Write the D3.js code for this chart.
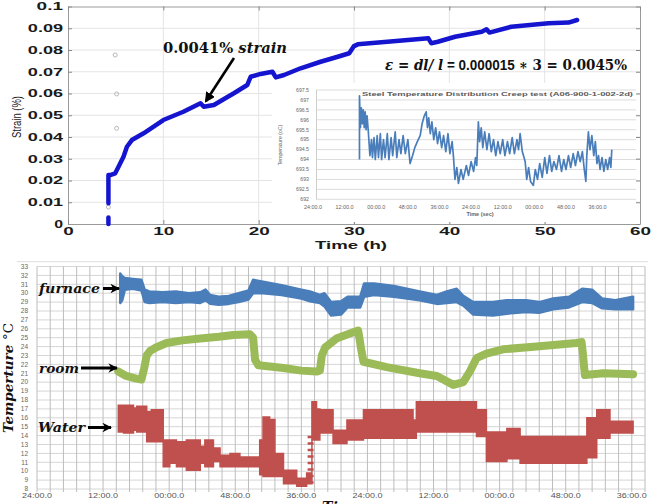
<!DOCTYPE html>
<html><head><meta charset="utf-8">
<script src="https://cdn.jsdelivr.net/npm/d3@7"></script>
<style>body{margin:0;background:#fff} svg{display:block}</style>
</head><body>
<svg id="c" width="652" height="504"></svg>
<script>
// ================= DATA =================
// --- top chart: strain vs time ---
const strainTicks = [0,0.01,0.02,0.03,0.04,0.05,0.06,0.07,0.08,0.09,0.1];
const strainTickLabels = ["0","0.01","0.02","0.03","0.04","0.05","0.06","0.07","0.08","0.09","0.1"];
const hourTicks = [0,10,20,30,40,50,60];
const strainHours  = [4.24,4.24,4.42,4.95,5.3,5.82,6.18,6.7,7.93,10.0,12.1,13.9,14.24,15.3,17.4,18.8,19.16,20.2,21.44,21.8,22.66,24.4,26.5,28.3,29.5,30.0,30.4,33.5,37.8,38.1,38.8,40.6,43.4,43.9,44.2,46.5,50.4,52.5,53.4];
const strainValues = [0.0095,0.0225,0.0225,0.0233,0.0263,0.0309,0.0355,0.0386,0.0417,0.0478,0.0516,0.0555,0.0539,0.0547,0.0601,0.0639,0.0677,0.069,0.070,0.0674,0.0685,0.0716,0.0746,0.0769,0.0785,0.0818,0.0826,0.0838,0.0854,0.0831,0.0838,0.0861,0.0884,0.0895,0.088,0.0907,0.0923,0.0926,0.0938];
const strainStubHours  = [4.24,4.24];
const strainStubValues = [0.0,0.003];
const markerHours  = [4.95,5.1,5.1,4.24];
const markerValues = [0.0777,0.0598,0.044,0.0078];

// --- inset: steel temperature ---
const insetTimeLabels = ["24:00.0","12:00.0","00:00.0","48:00.0","36:00.0","24:00.0","12:00.0","00:00.0","48:00.0","36:00.0"];
const insetTempTicks = [692,692.5,693,693.5,694,694.5,695,695.5,696,696.5,697,697.5];
const insetSeries = [
 [1.47,694.0],[1.47,697.2],[1.50,695.6],[1.53,696.6],[1.56,695.8],[1.59,696.5],[1.62,695.6],[1.65,696.4],[1.68,695.5],[1.71,696.2],
 [1.75,695.4],[1.80,694.2],[1.85,695.0],[1.88,694.1],[1.93,695.1],[1.97,694.0],[2.03,695.2],[2.07,694.1],[2.13,695.3],[2.17,694.0],
 [2.23,695.0],[2.28,694.1],[2.35,695.3],[2.40,694.0],[2.47,695.1],[2.52,694.2],[2.60,695.4],[2.65,694.1],[2.72,695.0],[2.78,694.3],
 [2.85,695.2],[2.92,694.3],[3.00,695.0],[3.07,693.8],[3.15,694.2],[3.22,694.6],[3.30,694.9],[3.39,695.2],[3.45,695.8],[3.52,696.2],
 [3.58,696.4],[3.62,695.6],[3.66,696.1],[3.71,695.3],[3.76,695.9],[3.82,695.0],[3.88,695.6],[3.94,694.8],[4.00,695.4],[4.07,694.6],
 [4.13,695.2],[4.20,694.4],[4.27,695.3],[4.33,694.3],[4.40,694.9],[4.44,694.2],[4.49,693.0],[4.55,693.6],[4.60,692.8],[4.68,693.5],
 [4.75,693.0],[4.85,693.7],[4.92,693.2],[5.00,693.9],[5.08,693.4],[5.14,694.1],[5.18,693.7],[5.23,695.9],[5.27,694.9],[5.32,695.6],
 [5.37,694.6],[5.43,695.4],[5.50,694.5],[5.57,695.3],[5.64,694.4],[5.71,695.0],[5.78,694.2],[5.85,694.9],[5.92,694.3],[6.00,695.0],
 [6.07,694.2],[6.15,694.9],[6.22,694.3],[6.30,695.1],[6.37,694.3],[6.45,695.0],[6.50,694.5],[6.55,695.3],[6.62,694.4],[6.71,693.9],
 [6.76,693.0],[6.82,693.6],[6.88,692.9],[6.97,692.7],[7.03,693.5],[7.10,693.0],[7.17,693.8],[7.25,693.1],[7.33,694.1],[7.40,693.3],
 [7.48,694.2],[7.55,693.4],[7.62,693.9],[7.70,693.5],[7.78,694.2],[7.86,693.4],[7.93,694.0],[8.00,693.5],[8.08,694.2],[8.15,693.6],
 [8.23,694.3],[8.30,693.7],[8.38,694.4],[8.45,693.9],[8.52,694.4],[8.58,693.5],[8.63,692.9],[8.66,694.2],[8.71,695.4],[8.76,694.5],
 [8.82,695.2],[8.88,694.2],[8.93,694.9],[8.98,693.8],[9.03,694.2],[9.08,693.5],[9.14,694.1],[9.20,693.4],[9.26,694.0],[9.32,693.5],
 [9.38,694.1],[9.42,693.6],[9.45,694.5]
];

// --- bottom chart: furnace / room / water temperatures ---
const timeLabels = ["24:00.0","12:00.0","00:00.0","48:00.0","36:00.0","24:00.0","12:00.0","00:00.0","48:00.0","36:00.0"];
const tempTicks = [8,9,10,11,12,13,14,15,16,17,18,19,20,21,22,23,24,25,26,27,28,29,30,31,32,33];
const furnaceX  = [1.26,1.29,1.33,1.45,1.58,1.63,1.70,1.90,2.10,2.30,2.47,2.55,2.62,2.75,2.90,3.05,3.20,3.27,3.42,3.70,4.00,4.13,4.28,4.35,4.45,4.60,4.70,4.89,4.95,5.10,5.40,5.79,6.05,6.20,6.35,6.45,6.60,6.90,7.11,7.40,7.60,7.81,8.05,8.25,8.40,8.55,8.75,9.02];
const furnaceLo = [28.9,29.2,30.4,30.5,30.3,29.0,28.9,29.0,28.9,29.0,28.9,29.2,28.8,28.7,28.8,29.0,29.3,30.0,30.0,29.8,29.4,29.1,28.9,28.5,27.5,27.6,28.4,28.4,29.6,29.8,29.6,29.2,28.8,28.9,29.0,28.6,27.6,27.5,27.7,27.9,27.8,28.2,28.4,29.0,28.9,28.3,28.2,28.2];
const furnaceHi = [32.2,31.9,31.7,31.6,31.5,30.4,30.2,30.1,30.2,30.0,30.1,30.4,29.8,29.6,29.7,30.0,30.3,31.5,31.3,30.9,30.4,30.2,29.8,30.0,29.0,29.1,29.6,29.6,31.1,31.1,30.8,30.2,29.8,30.2,30.5,29.7,29.0,29.0,29.2,29.2,29.0,29.4,29.6,30.5,30.4,29.4,29.2,29.6];
const roomX   = [1.23,1.35,1.50,1.58,1.62,1.66,1.71,1.80,1.96,2.20,2.47,2.75,2.97,3.22,3.27,3.30,3.35,3.73,4.00,4.23,4.28,4.31,4.36,4.53,4.785,4.86,4.91,4.94,5.29,5.79,6.05,6.30,6.45,6.55,6.65,6.80,7.05,7.56,8.16,8.24,8.26,8.29,8.57,9.02];
const roomMid = [21.2,20.7,20.4,20.3,21.5,23.0,23.5,23.9,24.4,24.7,24.9,25.1,25.3,25.4,25.0,22.5,21.9,21.6,21.3,21.2,21.3,23.0,23.9,24.9,25.6,25.8,23.5,22.3,21.7,21.0,20.7,19.7,20.0,21.2,22.7,23.2,23.7,24.0,24.4,24.5,23.2,20.8,21.0,20.9];
const waterX  = [1.23,1.31,1.46,1.51,1.66,1.73,1.91,2.01,2.11,2.26,2.47,2.54,2.67,2.77,2.92,3.07,3.37,3.42,3.52,3.60,3.73,3.93,4.08,4.16,4.23,4.28,4.48,4.69,4.94,5.69,5.74,6.65,6.80,7.11,7.31,8.32,8.47,8.67,9.02];
const waterLo = [14.4,14.3,14.6,14.4,13.3,13.3,10.5,10.9,10.5,10.1,10.9,10.5,11.1,10.5,10.5,10.5,9.6,9.4,9.4,9.4,8.6,8.3,8.6,13.5,13.5,14.3,13.1,13.5,13.7,13.7,14.4,13.9,11.1,11.4,10.9,11.5,13.7,14.3,14.3];
const waterHi = [17.4,17.4,17.1,17.3,16.7,16.9,13.5,13.5,13.3,13.5,12.8,13.5,12.6,11.8,12.0,11.6,13.5,16.1,15.8,12.0,10.1,9.2,9.8,17.8,17.0,16.9,14.6,15.75,16.9,15.75,17.8,16.9,14.4,14.8,13.9,16.0,16.9,15.6,15.6];
const waterDashX = [4.14];
const waterDashLo = [8.6];
const waterDashHi = [14.4];

// ================= DRAW =================
const svg = d3.select("#c");
svg.append("rect").attr("width",652).attr("height",504).attr("fill","#fff");

// ---------- top chart ----------
const mx = d3.scaleLinear().domain([0,60]).range([68,640]);
const my = d3.scaleLinear().domain([0,0.1]).range([224,6.5]);
const topG = svg.append("g");

topG.append("g").selectAll("line").data(strainTicks.slice(1,-1)).join("line")
  .attr("x1",mx(0)).attr("x2",mx(60)).attr("y1",d=>my(d)).attr("y2",d=>my(d))
  .attr("stroke","#e4e4e4").attr("stroke-width",1);
topG.append("g").selectAll("line").data(hourTicks.slice(1,-1)).join("line")
  .attr("y1",my(0)).attr("y2",my(0.1)).attr("x1",d=>mx(d)).attr("x2",d=>mx(d))
  .attr("stroke","#e4e4e4").attr("stroke-width",1);

const yAx = topG.append("g").attr("transform",`translate(${mx(0)},0)`)
  .call(d3.axisLeft(my).tickValues(strainTicks).tickSizeInner(-4).tickSizeOuter(0).tickPadding(5)
        .tickFormat((d,i)=>strainTickLabels[i]));
const xAx = topG.append("g").attr("transform",`translate(0,${my(0)})`)
  .call(d3.axisBottom(mx).tickValues(hourTicks).tickSizeInner(-4).tickSizeOuter(0).tickPadding(4).tickFormat(d3.format("d")));
const rAx = topG.append("g").attr("transform",`translate(${mx(60)},0)`)
  .call(d3.axisRight(my).tickValues(strainTicks).tickSizeInner(-4).tickSizeOuter(0).tickFormat(""));
const tAx = topG.append("g").attr("transform",`translate(0,${my(0.1)})`)
  .call(d3.axisTop(mx).tickValues(hourTicks).tickSizeInner(-4).tickSizeOuter(0).tickFormat(""));
[yAx,xAx,rAx,tAx].forEach(a=>{a.select(".domain").attr("stroke","#9a9a9a");a.selectAll(".tick line").attr("stroke","#8a8a8a");});
yAx.selectAll("text").attr("font-family","Liberation Sans, Arial").attr("font-weight","bold").attr("font-size",10.5).attr("fill","#1a1a1a")
  .attr("textLength",function(){return this.textContent.length*8.8;}).attr("lengthAdjust","spacingAndGlyphs");
xAx.selectAll("text").attr("font-family","Liberation Sans, Arial").attr("font-weight","bold").attr("font-size",10.5).attr("fill","#1a1a1a")
  .attr("textLength",function(){return this.textContent.length*10.5;}).attr("lengthAdjust","spacingAndGlyphs");

topG.append("text").attr("x",351).attr("y",249).attr("text-anchor","middle")
  .attr("font-family","Liberation Sans, Arial").attr("font-weight","bold").attr("font-size",11.5).attr("fill","#1a1a1a")
  .attr("textLength",72).attr("lengthAdjust","spacingAndGlyphs").text("Time (h)");
topG.append("text").attr("transform","translate(21,117) rotate(-90)").attr("text-anchor","middle")
  .attr("font-family","Liberation Sans, Arial").attr("font-size",12).attr("fill","#1a1a1a")
  .attr("textLength",42).attr("lengthAdjust","spacingAndGlyphs").text("Strain (%)");

// grey markers
topG.append("g").selectAll("circle").data(markerHours).join("circle")
  .attr("cx",d=>mx(d)).attr("cy",(d,i)=>my(markerValues[i])).attr("r",2)
  .attr("fill","none").attr("stroke","#b8b8b8").attr("stroke-width",1);

// strain line
const sLine = d3.line().x(d=>mx(d[0])).y(d=>my(d[1]));
topG.append("path").datum(strainHours.map((h,i)=>[h,strainValues[i]])).attr("d",sLine)
  .attr("fill","none").attr("stroke","#1515d0").attr("stroke-width",4.5).attr("stroke-linejoin","round").attr("stroke-linecap","round");
topG.append("path").datum(strainStubHours.map((h,i)=>[h,strainStubValues[i]])).attr("d",sLine)
  .attr("fill","none").attr("stroke","#1515d0").attr("stroke-width",4.5).attr("stroke-linecap","round");

// ---------- inset ----------
const ix = d3.scaleLinear().domain([0,10.2]).range([313,635.5]);
const iy = d3.scaleLinear().domain([692,697.5]).range([199.3,90]);
const ins = svg.append("g");
ins.append("rect").attr("x",272).attr("y",83).attr("width",364).attr("height",139).attr("fill","#fff");
ins.append("g").selectAll("line").data(insetTempTicks).join("line")
  .attr("x1",316).attr("x2",636).attr("y1",d=>iy(d)).attr("y2",d=>iy(d)).attr("stroke","#dcdcdc");
ins.append("line").attr("x1",316.5).attr("x2",316.5).attr("y1",iy(697.5)).attr("y2",iy(692)).attr("stroke","#cfcfcf");
ins.append("g").selectAll("text").data(insetTempTicks).join("text")
  .attr("x",309).attr("y",d=>iy(d)+1.8).attr("text-anchor","end")
  .attr("font-family","Liberation Sans, Arial").attr("font-size",5.2).attr("fill","#666").text(d=>d3.format("")(d));
ins.append("g").selectAll("text").data(insetTimeLabels).join("text")
  .attr("x",(d,i)=>ix(i)).attr("y",208.5).attr("text-anchor","middle")
  .attr("font-family","Liberation Sans, Arial").attr("font-size",5.2).attr("fill","#666")
  .attr("textLength",18).attr("lengthAdjust","spacingAndGlyphs").text(d=>d);
ins.append("text").attr("x",480).attr("y",215.5).attr("text-anchor","middle")
  .attr("font-family","Liberation Sans, Arial").attr("font-weight","bold").attr("font-size",5.5).attr("fill","#666").text("Time (sec)");
ins.append("text").attr("transform","translate(282,145) rotate(-90)").attr("text-anchor","middle")
  .attr("font-family","Liberation Sans, Arial").attr("font-size",5.2).attr("fill","#666").text("Temperature (oC)");
ins.append("text").attr("x",362).attr("y",96).attr("font-family","Liberation Sans, Arial").attr("font-weight","bold")
  .attr("font-size",6).attr("fill","#5a5a5a").attr("textLength",271).attr("lengthAdjust","spacingAndGlyphs")
  .text("Steel Temperature Distribution    Creep test (A06-900-1-002-2d)");
ins.append("path").datum(insetSeries)
  .attr("d",d3.line().x(d=>ix(d[0])).y(d=>iy(d[1])))
  .attr("fill","none").attr("stroke","#4a7ebb").attr("stroke-width",1.7).attr("stroke-linejoin","round");

// annotations top
const defs = svg.append("defs");
defs.append("marker").attr("id","ah").attr("viewBox","0 0 10 10").attr("refX",8).attr("refY",5)
  .attr("markerWidth",4).attr("markerHeight",4).attr("orient","auto")
  .append("path").attr("d","M0,0 L10,5 L0,10 z").attr("fill","#000");
svg.append("text").attr("x",163).attr("y",53).attr("font-family","DejaVu Serif, serif").attr("font-weight","bold")
  .attr("font-size",14.5).attr("fill","#111").attr("textLength",124).attr("lengthAdjust","spacingAndGlyphs")
  .call(t=>{t.append("tspan").text("0.0041% ");t.append("tspan").attr("font-style","italic").text("strain");});
svg.append("line").attr("x1",234).attr("y1",58).attr("x2",206).attr("y2",101)
  .attr("stroke","#000").attr("stroke-width",2.6).attr("marker-end","url(#ah)");
svg.append("text").attr("x",385).attr("y",70).attr("font-weight","bold").attr("font-size",14.5).attr("fill","#111")
  .attr("textLength",242).attr("lengthAdjust","spacingAndGlyphs")
  .call(t=>{
    t.append("tspan").attr("font-family","DejaVu Serif, serif").attr("font-style","italic").text("ε");
    t.append("tspan").attr("font-family","DejaVu Serif, serif").text(" = ");
    t.append("tspan").attr("font-family","DejaVu Serif, serif").attr("font-style","italic").text("dl/ l");
    t.append("tspan").attr("font-family","Liberation Sans, Arial").text(" = 0.000015 ");
    t.append("tspan").attr("font-family","DejaVu Serif, serif").text("∗ 3 = 0.0045%");
  });

// ---------- bottom chart ----------
const tx = d3.scaleLinear().domain([0,9.2]).range([37,645]);
const ty = d3.scaleLinear().domain([8,33]).range([489,266.5]);
const bot = svg.append("g");
bot.append("line").attr("x1",17).attr("x2",648).attr("y1",261.7).attr("y2",261.7).attr("stroke","#dedede");
bot.append("g").selectAll("line").data(tempTicks).join("line")
  .attr("x1",tx(0)).attr("x2",tx(9.2)).attr("y1",d=>ty(d)).attr("y2",d=>ty(d)).attr("stroke","#d6d6d6");
const minorX = d3.range(0,47).map(i=>i/5);
bot.append("g").selectAll("line").data(minorX).join("line")
  .attr("x1",d=>tx(d)).attr("x2",d=>tx(d)).attr("y1",ty(33)).attr("y2",ty(8)+3).attr("stroke","#bdbdbd");
bot.append("g").selectAll("text").data(tempTicks).join("text")
  .attr("x",28).attr("y",d=>ty(d)+2.2).attr("text-anchor","end")
  .attr("font-family","Liberation Sans, Arial").attr("font-size",6.5).attr("fill","#666").text(d=>d);
bot.append("g").selectAll("text").data(timeLabels).join("text")
  .attr("x",(d,i)=>tx(i)).attr("y",497.5).attr("text-anchor","middle")
  .attr("font-family","Liberation Sans, Arial").attr("font-size",7).attr("fill","#555")
  .attr("textLength",30).attr("lengthAdjust","spacingAndGlyphs").text(d=>d);

// furnace band
bot.append("path").datum(furnaceX.map((x,i)=>[x,furnaceLo[i],furnaceHi[i]]))
  .attr("d",d3.area().x(d=>tx(d[0])).y0(d=>ty(d[1])).y1(d=>ty(d[2])))
  .attr("fill","#4a7ebb").attr("stroke","#4a7ebb").attr("stroke-width",2.5).attr("stroke-linejoin","round");
// room thick line
bot.append("path").datum(roomX.map((x,i)=>[x,roomMid[i]]))
  .attr("d",d3.line().x(d=>tx(d[0])).y(d=>ty(d[1])))
  .attr("fill","none").attr("stroke","#9bbb59").attr("stroke-width",8).attr("stroke-linejoin","round").attr("stroke-linecap","round");
// water band
bot.append("path").datum(waterX.map((x,i)=>[x,waterLo[i],waterHi[i]]))
  .attr("d",d3.area().curve(d3.curveStepAfter).x(d=>tx(d[0])).y0(d=>ty(d[1])).y1(d=>ty(d[2])))
  .attr("fill","#c0504d").attr("stroke","#c0504d").attr("stroke-width",1.5);
bot.append("g").selectAll("line").data(waterDashX).join("line")
  .attr("x1",d=>tx(d)).attr("x2",d=>tx(d)).attr("y1",(d,i)=>ty(waterDashLo[i])).attr("y2",(d,i)=>ty(waterDashHi[i]))
  .attr("stroke","#c0504d").attr("stroke-width",6).attr("stroke-dasharray","2.5,4");

// labels + arrows bottom
defs.append("marker").attr("id","ah2").attr("viewBox","0 0 10 10").attr("refX",9).attr("refY",5)
  .attr("markerWidth",3.2).attr("markerHeight",3.2).attr("orient","auto")
  .append("path").attr("d","M0,0 L10,5 L0,10 L3,5 z").attr("fill","#000");
function lab(txt,x,y,len,ax1,ax2,ay){
  svg.append("text").attr("x",x).attr("y",y).attr("font-family","DejaVu Serif, serif").attr("font-style","italic")
    .attr("font-weight","bold").attr("font-size",13).attr("fill","#111")
    .attr("textLength",len).attr("lengthAdjust","spacingAndGlyphs").text(txt);
  svg.append("line").attr("x1",ax1).attr("x2",ax2).attr("y1",ay).attr("y2",ay)
    .attr("stroke","#000").attr("stroke-width",3).attr("marker-end","url(#ah2)");
}
lab("furnace",39,293,61,103,119,288.5);
lab("room",39,373,40,81,117,368);
lab("Water",38,432,47,88,111,427.5);

svg.append("text").attr("transform","translate(13,378) rotate(-90)").attr("text-anchor","middle")
  .attr("font-family","DejaVu Serif, serif").attr("font-weight","bold").attr("font-size",13).attr("fill","#111")
  .attr("textLength",110).attr("lengthAdjust","spacingAndGlyphs")
  .call(t=>{t.append("tspan").attr("font-style","italic").text("Temperture ");t.append("tspan").attr("font-weight","normal").text("°C");});
svg.append("text").attr("x",322).attr("y",512).attr("font-family","DejaVu Serif, serif").attr("font-style","italic")
  .attr("font-weight","bold").attr("font-size",14).attr("fill","#111").text("Time");
</script>
</body></html>
